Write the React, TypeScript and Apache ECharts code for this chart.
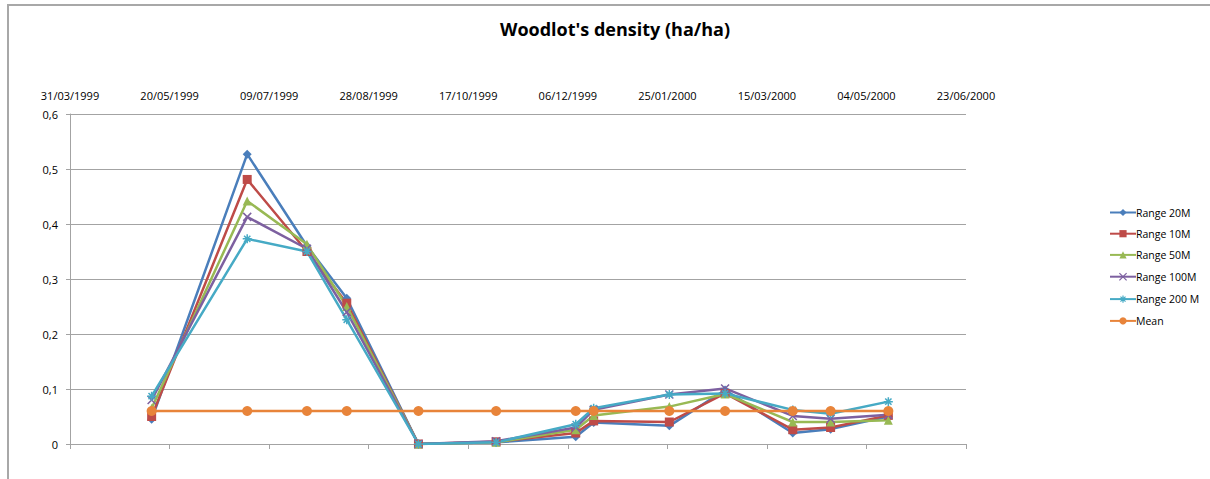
import React, { useEffect, useRef } from "react";
import * as echarts from "echarts";

const dates = [
  "1999-05-11", "1999-06-28", "1999-07-28", "1999-08-17", "1999-09-22",
  "1999-10-31", "1999-12-10", "1999-12-19", "2000-01-26", "2000-02-23",
  "2000-03-28", "2000-04-16", "2000-05-15",
];

const range20M = [0.045, 0.527, 0.36, 0.265, 0, 0.003, 0.013, 0.039, 0.033, 0.098, 0.02, 0.027, 0.05];
const range10M = [0.05, 0.481, 0.35, 0.256, 0, 0.004, 0.02, 0.042, 0.04, 0.092, 0.026, 0.03, 0.052];
const range50M = [0.065, 0.442, 0.363, 0.25, 0, 0.003, 0.026, 0.052, 0.068, 0.091, 0.04, 0.04, 0.043];
const range100M = [0.08, 0.413, 0.355, 0.24, 0, 0.005, 0.03, 0.062, 0.09, 0.101, 0.051, 0.046, 0.053];
const range200M = [0.087, 0.373, 0.35, 0.226, 0, 0.003, 0.036, 0.065, 0.09, 0.092, 0.062, 0.055, 0.077];
const meanValues = [0.06, 0.06, 0.06, 0.06, 0.06, 0.06, 0.06, 0.06, 0.06, 0.06, 0.06, 0.06, 0.06];

const seriesNames = ["Range 20M", "Range 10M", "Range 50M", "Range 100M", "Range 200 M", "Mean"];

const axisStartDate = "1999-03-31";
const axisSpanDays = 450;
const axisStepDays = 50;
const yTicks = { min: 0, max: 0.6, step: 0.1 };

const DAY = 86400000;
const toUTC = (s: string) => {
  const [y, m, d] = s.split("-").map(Number);
  return Date.UTC(y, m - 1, d);
};
const startMs = toUTC(axisStartDate);
const dayOffset = (s: string) => Math.round((toUTC(s) - startMs) / DAY);
const fmtDate = (days: number) => {
  const dt = new Date(startMs + days * DAY);
  const dd = String(dt.getUTCDate()).padStart(2, "0");
  const mm = String(dt.getUTCMonth() + 1).padStart(2, "0");
  return `${dd}/${mm}/${dt.getUTCFullYear()}`;
};

const FONT = "'Open Sans', 'Liberation Sans', sans-serif";
const GRID = "#A3A3A3";
const COLORS = ["#4A7EBB", "#BE4B48", "#98B954", "#7D60A0", "#46AAC5", "#E8843A"];

export default function App() {
  const ref = useRef<HTMLDivElement>(null);

  useEffect(() => {
    if (!ref.current) return;
    const chart = echarts.init(ref.current, null, { renderer: "svg" });

    const mk = (vals: number[]) => dates.map((d, i) => [dayOffset(d), vals[i]]);

    const lineSeries = (
      name: string,
      vals: number[],
      color: string,
      symbol: string,
      symbolSize: number,
      stroked = false
    ) => ({
      name,
      type: "line",
      data: mk(vals),
      symbol,
      symbolSize,
      showAllSymbol: true,
      lineStyle: { color, width: 2.5 },
      itemStyle: stroked
        ? { color: "none", borderColor: color, borderWidth: 1.5 }
        : { color, borderWidth: 0 },
      emphasis: { disabled: true },
    });

    const xPath = "path://M0,0L10,10M10,0L0,10";
    const starPath = "path://M0,5L10,5M5,0L5,10M1.5,1.5L8.5,8.5M8.5,1.5L1.5,8.5";

    chart.setOption({
      animation: false,
      textStyle: { fontFamily: FONT },
      title: {
        text: "Woodlot's density (ha/ha)",
        left: 610,
        top: 15,
        textAlign: "center",
        textStyle: { fontFamily: FONT, fontSize: 18, fontWeight: "bold", color: "#000" },
      },
      graphic: [
        {
          type: "rect",
          shape: { x: 8, y: 5, width: 1400, height: 700 },
          style: { fill: "none", stroke: "#A8A8A8", lineWidth: 2 },
          silent: true,
        },
      ],
      legend: {
        orient: "vertical",
        left: 1104,
        top: 202,
        itemWidth: 26,
        itemHeight: 9,
        itemGap: 10.2,
        data: seriesNames.map((n, i) =>
          i === 3 || i === 4
            ? { name: n, itemStyle: { color: "none", borderColor: COLORS[i], borderWidth: 1.2 } }
            : { name: n }
        ),
        textStyle: { fontFamily: FONT, fontSize: 10.5, color: "#000", padding: [0, 0, 0, -5] },
      },
      grid: { left: 70, right: 244, top: 114, bottom: 35, containLabel: false },
      xAxis: [
        {
          type: "value",
          position: "bottom",
          min: 0,
          max: axisSpanDays,
          interval: axisStepDays,
          axisLine: { show: true, lineStyle: { color: GRID, width: 1 } },
          axisTick: { show: true, length: 5, lineStyle: { color: GRID } },
          axisLabel: { show: false },
          splitLine: { show: false },
        },
        {
          type: "value",
          position: "top",
          min: 0,
          max: axisSpanDays,
          interval: axisStepDays,
          axisLine: { show: false },
          axisTick: { show: false },
          splitLine: { show: false },
          axisLabel: {
            show: true,
            margin: 13,
            showMinLabel: true,
            showMaxLabel: true,
            fontFamily: FONT,
            fontSize: 11,
            color: "#000",
            formatter: (v: number) => fmtDate(v),
          },
        },
      ],
      yAxis: {
        type: "value",
        min: yTicks.min,
        max: yTicks.max,
        interval: yTicks.step,
        axisLine: { show: true, lineStyle: { color: GRID, width: 1 } },
        axisTick: { show: true, length: 4, lineStyle: { color: GRID } },
        splitLine: { show: true, lineStyle: { color: GRID, width: 1 } },
        axisLabel: {
          margin: 12,
          fontFamily: FONT,
          fontSize: 11,
          color: "#000",
          formatter: (v: number) => (v === 0 ? "0" : v.toFixed(1).replace(".", ",")),
        },
      },
      series: [
        lineSeries(seriesNames[0], range20M, COLORS[0], "diamond", 9),
        lineSeries(seriesNames[1], range10M, COLORS[1], "rect", 9),
        lineSeries(seriesNames[2], range50M, COLORS[2], "triangle", 9),
        lineSeries(seriesNames[3], range100M, COLORS[3], xPath, 8, true),
        lineSeries(seriesNames[4], range200M, COLORS[4], starPath, 9, true),
        lineSeries(seriesNames[5], meanValues, COLORS[5], "circle", 10),
      ],
    });

    return () => chart.dispose();
  }, []);

  return (
    <div
      ref={ref}
      style={{ position: "absolute", left: 0, top: 0, width: 1210, height: 479, background: "#fff" }}
    />
  );
}
